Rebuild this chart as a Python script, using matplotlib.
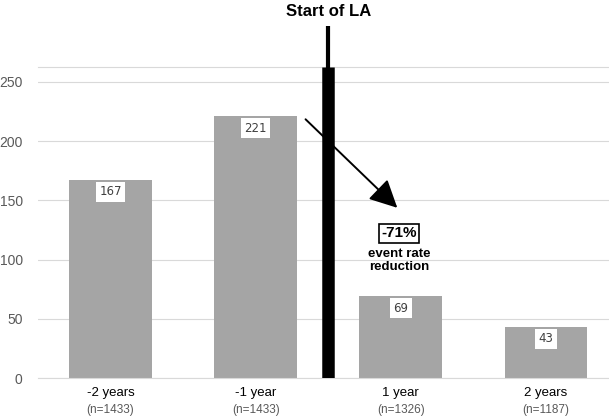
import matplotlib.pyplot as plt

plt.rcParams['font.family'] = ['Liberation Sans', 'DejaVu Sans']

periods = ['-2 years', '-1 year', '1 year', '2 years']
n_patients = ['(n=1433)', '(n=1433)', '(n=1326)', '(n=1187)']
events = [167, 221, 69, 43]
y_ticks = [0, 50, 100, 150, 200, 250]

fig = plt.figure(figsize=(6.09, 4.2), dpi=100)
ax = fig.add_axes([0.0624, 0.1, 0.9376, 0.7405])

x = list(range(len(periods)))
ax.bar(x, events, width=0.57, color='#a5a5a5', zorder=2)

for xi, v in zip(x, events):
    ax.text(xi, v - 10, str(v), ha='center', va='center', fontsize=8.5, color='#404040',
            family='DejaVu Sans',
            bbox=dict(facecolor='white', edgecolor='none', pad=2.5), zorder=4)

ax.set_xlim(-0.5, 3.435)
ax.set_ylim(0, 262.5)
ax.set_yticks(y_ticks)
ax.set_yticklabels([str(t) for t in y_ticks], fontsize=10, color='#595959')
ax.yaxis.grid(True, color='#d9d9d9', lw=0.8, zorder=0)
ax.tick_params(axis='y', length=0, pad=11)
ax.tick_params(axis='x', length=0)
ax.set_xticks(x)
ax.set_xticklabels([])
for s in ['left', 'right']:
    ax.spines[s].set_visible(False)
ax.spines['top'].set_color('#d9d9d9')
ax.spines['bottom'].set_color('#d9d9d9')

for xi, p, n in zip(x, periods, n_patients):
    ax.text(xi, -13, p, ha='center', va='center', fontsize=9.5, color='black')
    ax.text(xi, -27, n, ha='center', va='center', fontsize=8.5, color='#595959')

# start of LA divider
ax.plot([1.5, 1.5], [0, 262.5], color='black', lw=9, solid_capstyle='butt', zorder=5)
ax.plot([1.5, 1.5], [0, 297], color='black', lw=3, solid_capstyle='butt', zorder=5, clip_on=False)
ax.text(1.5, 309, 'Start of LA', ha='center', va='center', fontsize=12, fontweight='bold')

ax.annotate('', xy=(1.99, 142), xytext=(1.33, 220),
            arrowprops=dict(arrowstyle='-|>,head_length=1.7,head_width=0.85', color='black', lw=1.4),
            zorder=6)
ax.text(1.99, 122, '-71%', ha='center', va='center', fontsize=11, fontweight='bold',
        bbox=dict(facecolor='white', edgecolor='black', lw=1.2, pad=1.5))
ax.text(1.99, 99, 'event rate\nreduction', ha='center', va='center', fontsize=9.5,
        fontweight='bold', linespacing=1.15)

plt.savefig('out.png', dpi=100)
